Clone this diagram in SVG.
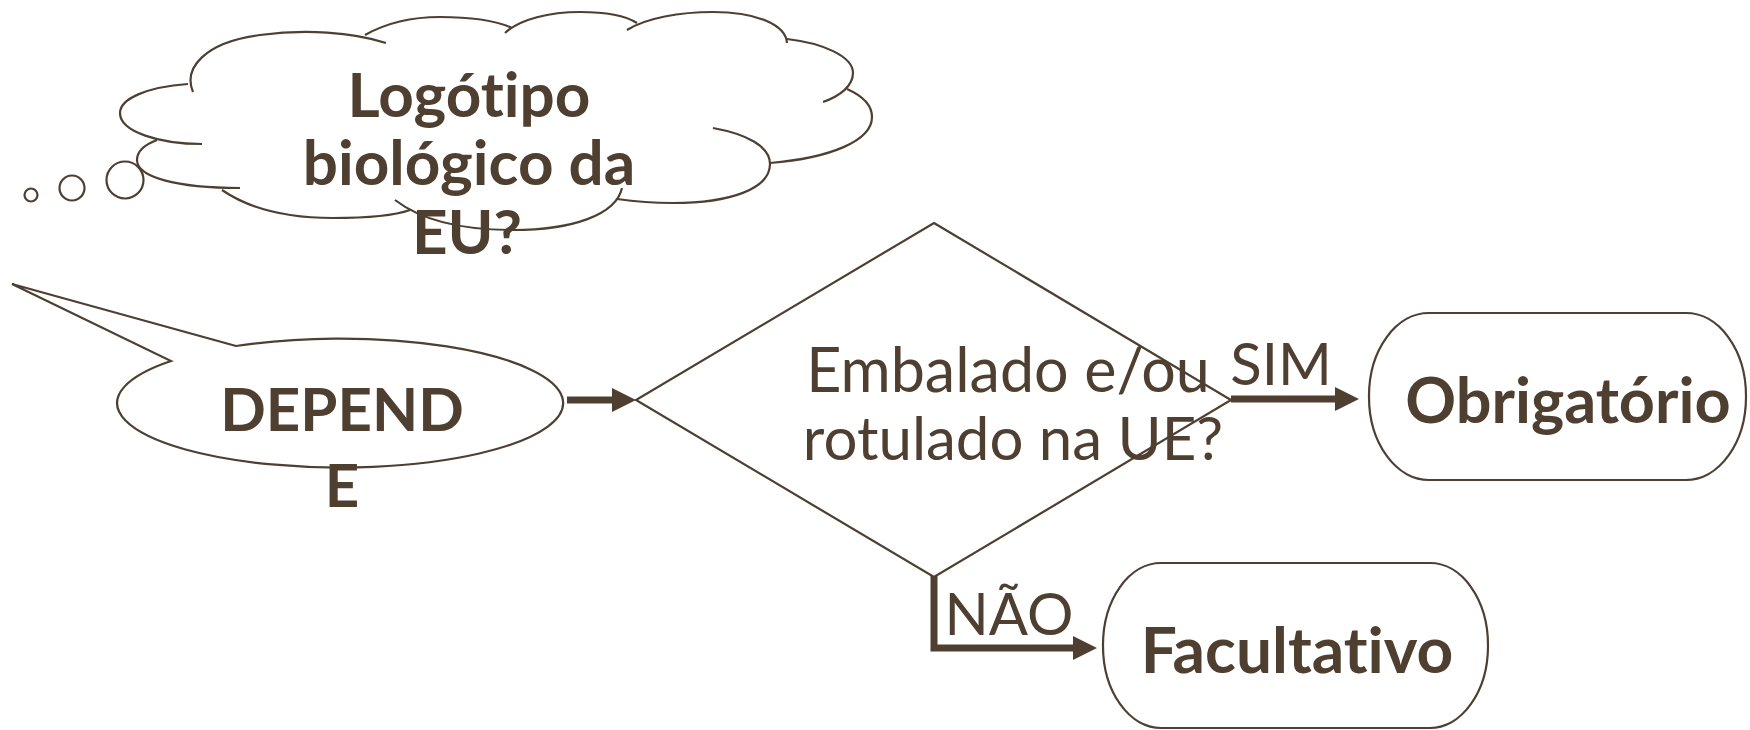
<svg xmlns="http://www.w3.org/2000/svg" width="1750" height="730" viewBox="0 0 1750 730">
<defs>
<style>
.ln{fill:none;stroke:#4F3F30;stroke-width:2.2;stroke-linecap:butt}
.shape{fill:#fff;stroke:#4F3F30;stroke-width:2.2}
.conn{fill:none;stroke:#4F3F30;stroke-width:7;stroke-linejoin:miter}
.b{font-family:Lato,"Liberation Sans",sans-serif;font-weight:bold;fill:#4F3F30;text-anchor:middle;font-variant-ligatures:none;font-feature-settings:"liga" 0,"clig" 0}
.r{font-family:Lato,"Liberation Sans",sans-serif;font-weight:normal;fill:#4F3F30;text-anchor:middle;font-variant-ligatures:none;font-feature-settings:"liga" 0,"clig" 0}
</style>
<marker id="ah" markerUnits="userSpaceOnUse" markerWidth="24" markerHeight="24" viewBox="0 0 24 24" refX="1" refY="12" orient="auto">
<path d="M0,0 L24,12 L0,24 z" fill="#4F3F30"/>
</marker>
</defs>
<rect width="1750" height="730" fill="#fff"/>

<g id="cloud">
<circle class="ln" cx="31" cy="195" r="6.5"/>
<circle class="ln" cx="72" cy="188" r="12.5"/>
<circle class="ln" cx="125" cy="180" r="18.5"/>
<path class="ln" d="M193,92 C183,68 205,42 260,35 C305,29 352,32 386,43"/>
<path class="ln" d="M365,35 C388,22 415,17 440,17 C472,17 497,21 512,28"/>
<path class="ln" d="M505,33 C520,19 550,12 580,12 C606,12 626,16 637,23"/>
<path class="ln" d="M627,30 C646,18 680,12 713,12 C757,12 786,25 787,43"/>
<path class="ln" d="M787,39 C822,43 853,56 853,73 C853,86 840,96 823,102"/>
<path class="ln" d="M847,89 C865,97 872,107 872,117 C872,141 830,158 770,163"/>
<path class="ln" d="M713,128 C746,134 770,146 770,164 C770,189 730,203 673,203 C650,203 631,201 617,199"/>
<path class="ln" d="M395,200 C421,220 461,230 513,230 C572,230 616,215 622,188"/>
<path class="ln" d="M222,190 C251,210 291,218 333,218 C371,218 396,215 410,210"/>
<path class="ln" d="M157,140 C141,146 137,154 137,160 C137,177 176,188 240,188"/>
<path class="ln" d="M188,84 C146,87 120,99 120,113 C120,132 160,144 202,144"/>
<text class="b" x="469" y="117" font-size="62">Logótipo</text>
<text class="b" x="469" y="185" font-size="62">biológico da</text>
<text class="b" x="467" y="254" font-size="62">EU?</text>
</g>

<g id="depende">
<path class="shape" d="M236,346 L12,284 L171,361 A223,64.5 0 1 0 236,346 Z"/>
<text class="b" x="342" y="431" font-size="60">DEPEND</text>
<text class="b" x="342" y="507" font-size="60">E</text>
</g>

<g id="decision">
<path class="shape" d="M934,223 L1231,400 L934,577 L636,400 Z" style="fill:none"/>
<text class="r" x="1008" y="392" font-size="61">Embalado e/ou</text>
<text class="r" x="1013" y="460" font-size="60">rotulado na UE?</text>
</g>

<g id="obrigatorio">
<rect class="shape" x="1369" y="313" width="377" height="167" rx="60" ry="83"/>
<text class="b" x="1568" y="423" font-size="63">Obrigatório</text>
</g>

<g id="facultativo">
<rect class="shape" x="1103" y="563" width="385" height="165" rx="58" ry="82"/>
<text class="b" x="1297" y="673" font-size="64">Facultativo</text>
</g>

<g id="connectors">
<path class="conn" d="M567,400 L613,400" marker-end="url(#ah)"/>
<path class="conn" d="M1231,399 L1336,399" marker-end="url(#ah)"/>
<path class="conn" d="M934,576 L934,648 L1074,648" marker-end="url(#ah)"/>
<text class="r" x="1281" y="385" font-size="58">SIM</text>
<text class="r" x="1009" y="635" font-size="58">NÃO</text>
</g>
</svg>
